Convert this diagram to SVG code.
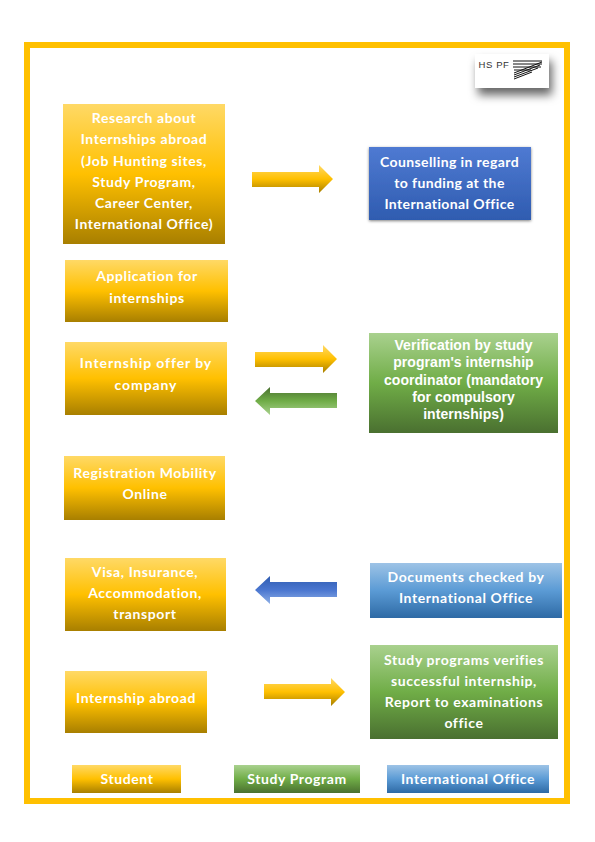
<svg xmlns="http://www.w3.org/2000/svg" width="595" height="842" viewBox="0 0 595 842">
<defs>
<linearGradient id="gy" x1="0" y1="0" x2="0" y2="1"><stop offset="0" stop-color="#ffd966"/><stop offset="0.5" stop-color="#ffc000"/><stop offset="1" stop-color="#a87f00"/></linearGradient>
<linearGradient id="gg" x1="0" y1="0" x2="0" y2="1"><stop offset="0" stop-color="#a9d18e"/><stop offset="0.5" stop-color="#70ad47"/><stop offset="1" stop-color="#4a7030"/></linearGradient>
<linearGradient id="gb" x1="0" y1="0" x2="0" y2="1"><stop offset="0" stop-color="#9dc3e6"/><stop offset="0.5" stop-color="#5b9bd5"/><stop offset="1" stop-color="#2e6aa5"/></linearGradient>
<linearGradient id="gd" x1="0" y1="0" x2="0" y2="1"><stop offset="0" stop-color="#4f7ad2"/><stop offset="1" stop-color="#2f5cb0"/></linearGradient>
<linearGradient id="gag" x1="0" y1="0" x2="0" y2="1"><stop offset="0" stop-color="#4a7030"/><stop offset="0.5" stop-color="#70ad47"/><stop offset="1" stop-color="#a9d18e"/></linearGradient>
<linearGradient id="gab" x1="0" y1="0" x2="0" y2="1"><stop offset="0" stop-color="#2f5cb0"/><stop offset="0.5" stop-color="#4a76d0"/><stop offset="1" stop-color="#8fb0e6"/></linearGradient>
<filter id="sh" x="-30%" y="-30%" width="170%" height="220%"><feDropShadow dx="3" dy="7" stdDeviation="5" flood-color="#000" flood-opacity="0.6"/></filter>
<filter id="sm" x="-10%" y="-15%" width="120%" height="135%"><feDropShadow dx="0" dy="1" stdDeviation="1.5" flood-color="#000" flood-opacity="0.5"/></filter>
</defs>
<style>
text{fill:#fff;text-anchor:middle;font-weight:700}
.c{font-family:"Lato","Liberation Sans",sans-serif;font-size:14px;letter-spacing:.6px}
.a{font-family:"Liberation Sans",sans-serif;font-size:14px;letter-spacing:.05px}
.y{fill:url(#gy)}.g{fill:url(#gg)}.b{fill:url(#gb)}
</style>
<rect width="595" height="842" fill="#fff"/>
<rect x="27" y="45" width="540" height="756" fill="none" stroke="#ffc000" stroke-width="6"/>
<g id="logo"><rect x="475" y="54" width="74" height="34" fill="#fff" filter="url(#sh)"/>
<text x="494" y="68" style="font-family:'Liberation Sans',sans-serif;font-size:9.5px;font-weight:400;letter-spacing:.6px;fill:#333">HS PF</text>
<path d="M513 61H542M513 64H542M513 67H541M514 70H531M514 73L542 62M514 75L540 65M514 77L538 68M514 79L532 72" stroke="#111" stroke-width="1" fill="none"/></g>
<g id="connectors">
<path class="y" d="M252 172H319V165L333 179L319 193V187H252Z"/>
<path class="y" d="M255 352H323V345L337 359L323 373V367H255Z"/>
<path d="M337 393H270V387L255 401L270 415V408H337Z" fill="url(#gag)"/>
<path d="M337 582H270V576L255 590L270 604V597H337Z" fill="url(#gab)"/>
<path class="y" d="M264 684H331V678L345 692L331 706V699H264Z"/>
</g>
<g id="n1"><rect class="y" x="63" y="104" width="162" height="140"/>
<text class="c"><tspan x="144" y="123">Research about</tspan><tspan x="144" y="144">Internships abroad</tspan><tspan x="144" y="166">(Job Hunting sites,</tspan><tspan x="144" y="187">Study Program,</tspan><tspan x="144" y="208">Career Center,</tspan><tspan x="144" y="229">International Office)</tspan></text></g>
<g id="n2"><rect x="369" y="147" width="162" height="73" fill="url(#gd)" filter="url(#sm)"/>
<text class="c" style="letter-spacing:.4px"><tspan x="449.500" y="167">Counselling in regard</tspan><tspan x="449.500" y="188">to funding at the</tspan><tspan x="449.500" y="209">International Office</tspan></text></g>
<g id="n3"><rect class="y" x="65" y="260" width="163" height="62"/>
<text class="c"><tspan x="147" y="281">Application for</tspan><tspan x="147" y="303">internships</tspan></text></g>
<g id="n4"><rect class="y" x="65" y="342" width="162" height="73"/>
<text class="c" style="letter-spacing:.9px"><tspan x="146" y="368">Internship offer by</tspan><tspan x="146" y="390">company</tspan></text></g>
<g id="n5"><rect class="g" x="369" y="333" width="189" height="100"/>
<text class="a"><tspan x="463.500" y="350">Verification by study</tspan><tspan x="463.500" y="367">program's internship</tspan><tspan x="463.500" y="385">coordinator (mandatory</tspan><tspan x="463.500" y="402">for compulsory</tspan><tspan x="463.500" y="419">internships)</tspan></text></g>
<g id="n6"><rect class="y" x="64" y="456" width="161" height="64"/>
<text class="c"><tspan x="145" y="478">Registration Mobility</tspan><tspan x="145" y="499">Online</tspan></text></g>
<g id="n7"><rect class="y" x="65" y="558" width="161" height="73"/>
<text class="c"><tspan x="145" y="577">Visa, Insurance,</tspan><tspan x="145" y="598">Accommodation,</tspan><tspan x="145" y="619">transport</tspan></text></g>
<g id="n8"><rect class="b" x="370" y="563" width="192" height="55"/>
<text class="c"><tspan x="466" y="582">Documents checked by</tspan><tspan x="466" y="603">International Office</tspan></text></g>
<g id="n9"><rect class="y" x="65" y="671" width="142" height="62"/>
<text class="c" x="136" y="703">Internship abroad</text></g>
<g id="n10"><rect class="g" x="370" y="645" width="188" height="94"/>
<text class="c"><tspan x="464" y="665">Study programs verifies</tspan><tspan x="464" y="686">successful internship,</tspan><tspan x="464" y="707">Report to examinations</tspan><tspan x="464" y="728">office</tspan></text></g>
<g id="l1"><rect class="y" x="72" y="765" width="109" height="28"/><text class="c" x="127" y="784">Student</text></g>
<g id="l2"><rect class="g" x="234" y="765" width="126" height="28"/><text class="c" x="297" y="784">Study Program</text></g>
<g id="l3"><rect class="b" x="387" y="765" width="162" height="28"/><text class="c" x="468" y="784">International Office</text></g>
</svg>
